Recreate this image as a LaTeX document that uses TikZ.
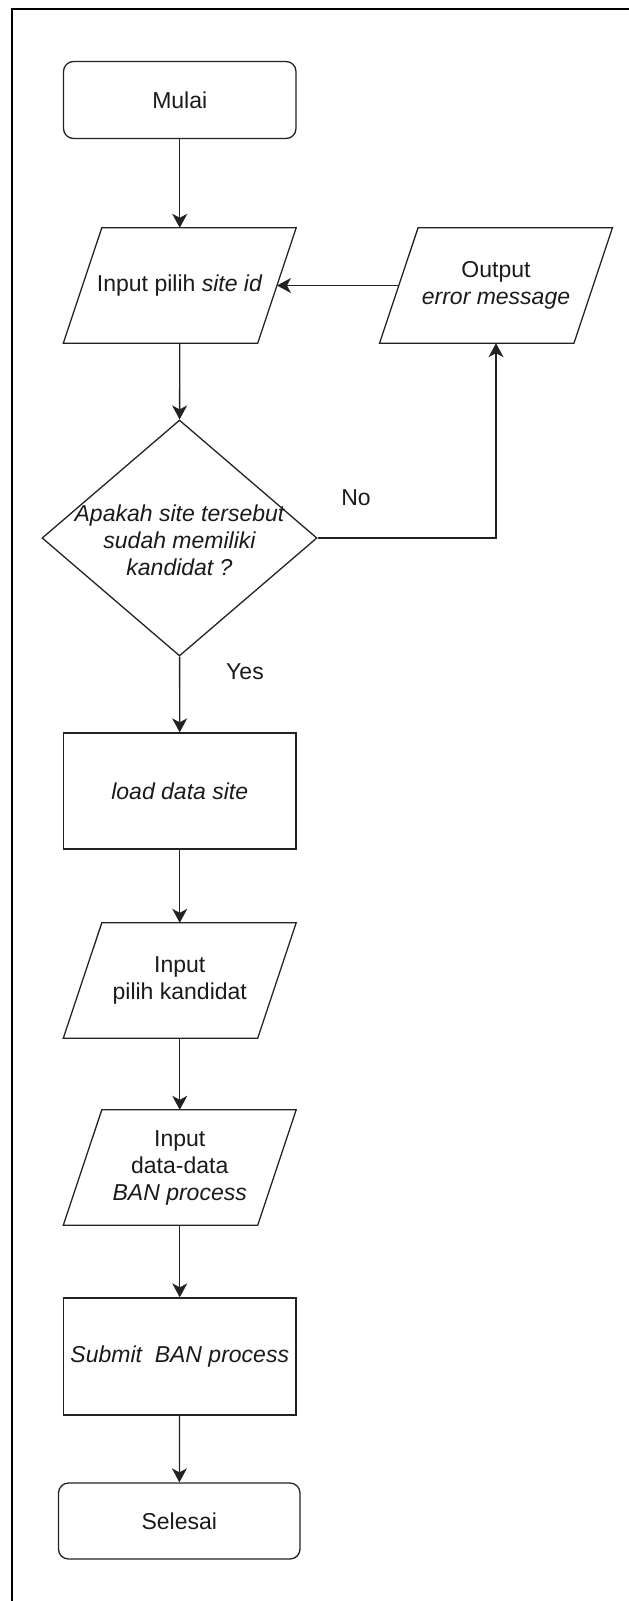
\documentclass[tikz,border=0pt]{standalone}
\usepackage{fontspec}
\setmainfont{Liberation Sans}
\usetikzlibrary{arrows.meta,calc,shapes.geometric}

\definecolor{edge}{HTML}{222222}
\definecolor{txt}{HTML}{1A1A1A}

\begin{document}
\begin{tikzpicture}[x=1pt,y=-1pt,
  every node/.style={font=\fontsize{23}{27}\selectfont, text=txt},
  box/.style={draw=edge, line width=1.3pt, minimum width=232.5pt,
    minimum height=116pt, inner sep=0pt, align=center},
  term/.style={box, rounded corners=10pt, minimum height=77pt},
  iobox/.style={minimum width=232.5pt, minimum height=115pt, inner sep=0pt, align=center},
  para/.style={draw=edge, line width=1.3pt, line join=miter},
  dec/.style={diamond, draw=edge, line width=1.3pt, minimum width=275pt,
    minimum height=236pt, inner sep=0pt},
  flow/.style={draw=edge, line width=1.3pt,
    -{Stealth[length=14pt,width=15pt,inset=4pt]}},
  lbl/.style={inner sep=0pt}
]
\clip (0,0) rectangle (629,1601);

% outer frame (runs past the right and bottom edges of the page)
\draw[line width=2pt, black] (11.5,9) rectangle (660,1640);

% nodes
\node[term] (start) at (179.75,100) {Mulai};
\node[iobox] (in1) at (179.75,285.5) {Input pilih \textit{site id}};
\node[iobox] (err) at (496,285.5) {Output\\\textit{error message}};
\node[dec] (dec) at (179.5,538) {};
\node[lbl, align=center, font=\fontsize{23}{27}\selectfont\itshape] (dect) at (179.5,540)
  {Apakah site tersebut\\sudah memiliki\\kandidat ?};
\node[box] (load) at (179.75,791) {\textit{load data site}};
\node[iobox] (kand) at (179.75,980.5) {Input\\pilih kandidat};
\node[iobox] (data) at (179.75,1167.5) {Input\\data-data\\\textit{BAN process}};
\node[box, minimum height=117pt] (sub) at (179.75,1356.5) {\textit{Submit\ \ BAN process}};
\node[term, minimum width=241.5pt, minimum height=76pt] (stop) at (179.25,1521) {Selesai};

% parallelogram outlines for the input/output nodes
\foreach \n in {in1,err,kand,data}{
  \draw[para] ($(\n.north west)+(38.5,0)$) -- (\n.north east)
    -- ($(\n.south east)+(-38.5,0)$) -- (\n.south west) -- cycle;
}

% points on the slanted sides at mid height
\coordinate (in1r) at ($(in1.east)+(-19.25,0)$);
\coordinate (errl) at ($(err.west)+(19.25,0)$);

% connectors
\draw[flow] (start) -- (in1);
\draw[flow] (in1) -- (dec);
\draw[flow] (errl) -- (in1r);
\draw[flow] (dec.east) -| (err.south);
\draw[flow] (dec) -- (load);
\draw[flow] (load) -- (kand);
\draw[flow] (kand) -- (data);
\draw[flow] (data) -- (sub);
\draw[flow] (sub) -- (stop);

% branch labels
\node[lbl] (no) at (356,498) {No};
\node[lbl] (yes) at (245,672) {Yes};
\end{tikzpicture}
\end{document}
